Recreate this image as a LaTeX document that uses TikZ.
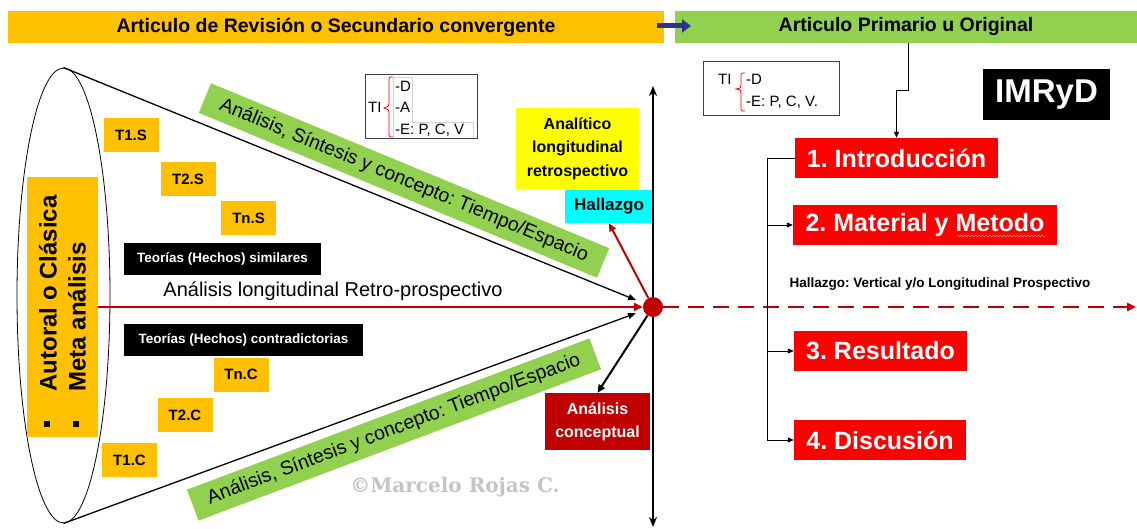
\documentclass[tikz,border=0pt]{standalone}
\usepackage{fontspec}
\setmainfont{Liberation Sans}
\newfontfamily\wmfont{DejaVu Serif}
\usetikzlibrary{arrows.meta,calc,shapes.geometric,decorations.pathmorphing}
\definecolor{orng}{HTML}{FFC000}
\definecolor{grn}{HTML}{92D050}
\definecolor{navy}{HTML}{2E3192}
\definecolor{dred}{HTML}{C00000}
\definecolor{bred}{HTML}{FF0000}
\definecolor{yel}{HTML}{FFFF00}
\definecolor{cyn}{HTML}{00FFFF}
\definecolor{wm}{HTML}{C4C4C4}
\newcommand\fsz[2]{\fontsize{#1}{#2}\selectfont}
\frenchspacing
\begin{document}
\frenchspacing
\begin{tikzpicture}[x=1pt,y=-1pt,
  bar/.style={inner sep=0pt, minimum height=32pt, font=\bfseries\fsz{19.5}{22}},
  tbox/.style={fill=orng, inner sep=0pt, minimum width=55pt, minimum height=34pt, font=\bfseries\fsz{15}{18}},
  blk/.style={fill=black, text=white, inner sep=0pt, minimum height=31pt, font=\bfseries\fsz{13.5}{16}},
  redbox/.style={fill=bred, text=white, inner sep=0pt, minimum height=40pt, font=\bfseries\fsz{25}{30}},
  band/.style={fill=grn, inner sep=0pt, minimum height=32pt, font=\fsz{19.5}{22}},
  cone/.style={line width=1.3pt, -{Triangle[length=8pt,width=6pt]}, shorten >=8pt},
  conn/.style={draw=black, line width=0.9pt, -{Triangle[length=6pt,width=5pt]}},
  txt/.style={inner sep=0pt, font=\fsz{15}{18}, anchor=base west}
]
\useasboundingbox (0,0) rectangle (1137,529);

% ---------- top bars ----------
\node[bar, fill=orng, minimum width=656pt] (topL) at (336,27) {Articulo de Revisión o Secundario convergente};
\node[bar, fill=grn, minimum width=462pt] (topR) at (906,27) {Articulo Primario u Original};
\coordinate (na) at (657,26);
\coordinate (nb) at (691,26);
\draw[navy, line width=5pt, -{Triangle[length=9pt,width=13pt]}] (na) -- (nb);

% ---------- right TI box ----------
\node[draw=black!75, line width=0.8pt, minimum width=136pt, minimum height=54pt, inner sep=0pt] (tiR) at (771,88) {};
\node[txt] (tiRa) at (718,85) {TI};
\node[txt] (tiRb) at (746,85) {-D};
\node[txt] (tiRc) at (746,107) {-E: P, C, V.};
\draw[bred, line width=0.8pt] (745,73) .. controls (741,73) .. (741,78) -- (741,85)
  .. controls (741,88) .. (736,89) .. controls (741,90) .. (741,93) -- (741,106)
  .. controls (741,111) .. (745,111);

% ---------- IMRyD ----------
\node[fill=black, text=white, font=\bfseries\fsz{33}{36}, minimum width=127pt, minimum height=51pt, inner sep=0pt] (imr) at (1046.5,94.5) {IMRyD};

% ---------- left TI box ----------
\node[draw=black!75, line width=0.8pt, minimum width=112pt, minimum height=64pt, inner sep=0pt] (tiL) at (421,106) {};
\draw[gray!35, line width=0.6pt] (393,77) -- (412,77) -- (412,122) -- (473,122) -- (473,137);
\draw[gray!35, line width=0.6pt] (393,77) -- (393,137);
\node[txt] (tiLa) at (368,113) {TI};
\node[txt] (tiLb) at (395,92) {-D};
\node[txt] (tiLc) at (395,113) {-A};
\node[txt] (tiLd) at (395,135) {-E: P, C, V};
\draw[bred, line width=0.8pt] (393,77) .. controls (389,77) .. (389,82) -- (389,103)
  .. controls (389,106) .. (384,108) .. controls (389,110) .. (389,113) -- (389,132)
  .. controls (389,137) .. (393,137);

% ---------- center column ----------
\node[fill=yel, minimum width=123pt, minimum height=81pt, inner sep=0pt, align=center, font=\bfseries\fsz{16}{23.5}] (ana) at (577.5,148.5) {Analítico\\longitudinal\\retrospectivo};
\node[fill=cyn, minimum width=88pt, minimum height=33pt, inner sep=0pt, font=\bfseries\fsz{17}{20}] (hal) at (609,206.5) {Hallazgo};
\node[fill=dred, text=white, minimum width=105pt, minimum height=57pt, inner sep=0pt, align=center, font=\bfseries\fsz{16}{23}] (con) at (597.5,421.5) {Análisis\\conceptual};

\coordinate (axT) at (653,86);
\coordinate (axB) at (653,527);
\draw[line width=2.2pt, {Stealth[length=10pt,width=8pt]}-{Stealth[length=10pt,width=8pt]}] (axB) -- (axT);
\node[circle, fill=dred, minimum size=20pt, inner sep=0pt] (dot) at (653,307) {};

% ---------- cone ----------
\node[ellipse, draw, line width=0.8pt, minimum width=93pt, minimum height=455pt, inner sep=0pt] (ell) at (63.5,295.5) {};
\draw[cone] (ell.north) -- (dot);
\draw[cone] (ell.south) -- (dot);

\node[band, minimum width=431pt, rotate=-22.5] (bandT) at (404,180.5) {Análisis, Síntesis y concepto: Tiempo/Espacio};
\node[band, minimum width=430pt, minimum height=33pt, rotate=20.6] (bandB) at (394,429.5) {Análisis, Síntesis y concepto: Tiempo/Espacio};

% left orange box
\node[fill=orng, minimum width=71pt, minimum height=260pt, inner sep=0pt] (lbox) at (62.5,307) {};
\node[rotate=90, anchor=west, font=\bfseries\fsz{24}{28}] (lt1) at (48,395) {Autoral o Clásica};
\node[rotate=90, anchor=west, font=\bfseries\fsz{24}{28}] (lt2) at (77,395) {Meta análisis};
\node[fill=black, minimum size=6pt, inner sep=0pt] (bu1) at (47,424) {};
\node[fill=black, minimum size=6pt, inner sep=0pt] (bu2) at (76,424) {};

\node[tbox] (t1s) at (131,135) {T1.S};
\node[tbox] (t2s) at (188,179.5) {T2.S};
\node[tbox] (tns) at (248.5,218.5) {Tn.S};
\node[tbox] (tnc) at (241,374.5) {Tn.C};
\node[tbox] (t2c) at (185,415) {T2.C};
\node[tbox] (t1c) at (129.5,460) {T1.C};

\node[blk, minimum width=197pt] (sim) at (222.5,259) {Teorías (Hechos) similares};
\node[blk, minimum width=239pt, minimum height=32pt] (contra) at (243.5,340) {Teorías (Hechos) contradictorias};
\node[font=\fsz{20}{24}, anchor=base, inner sep=0pt] (retro) at (333,296) {Análisis longitudinal Retro-prospectivo};

\draw[dred, line width=2.5pt, -{Triangle[length=9pt,width=8pt]}] (lbox.east) -- (dot);
\draw[dred, line width=2pt, -{Triangle[length=8pt,width=7pt]}] (dot) -- (hal.south);
\draw[line width=2pt, -{Triangle[length=8pt,width=7pt]}] (dot) -- (con.north);
\coordinate (dend) at (1136,307);
\draw[dred, line width=2.5pt, dash pattern=on 16pt off 9pt, -{Triangle[length=9pt,width=8pt]}] (dot) -- (dend);

\node[text=wm, font=\wmfont\bfseries\fsz{20}{22}, inner sep=0pt] (wmk) at (455,487) {©Marcelo Rojas C.};

% ---------- IMRyD sections ----------
\node[redbox, minimum width=203pt] (intro) at (896.5,158) {1. Introducción};
\node[redbox, minimum width=264pt] (mat) at (925,225) {2. Material y Metodo};
\node[redbox, minimum width=173pt] (res) at (880.5,351) {3. Resultado};
\node[redbox, minimum width=172pt] (disc) at (880,440) {4. Discusión};
\coordinate (sq1) at (957,236);
\coordinate (sq2) at (1045,236);
\draw[red!45, line width=0.6pt, decorate, decoration={snake, amplitude=0.9pt, segment length=3.5pt}] (sq1) -- (sq2);

\node[font=\bfseries\fsz{13.5}{16}, inner sep=0pt] (hlab) at (940,284) {Hallazgo: Vertical y/o Longitudinal Prospectivo};

\draw[conn] (topR.south) ++(2,0) |- ($(intro.north)+(0,-47)$) -- (intro.north);
\draw[line width=0.9pt] (intro.west) -- ++(-27,0) coordinate (bk);
\draw[conn] (bk) |- (mat.west);
\draw[conn] (bk) |- (res.west);
\draw[conn] (bk) |- (disc.west);
\end{tikzpicture}
\end{document}
